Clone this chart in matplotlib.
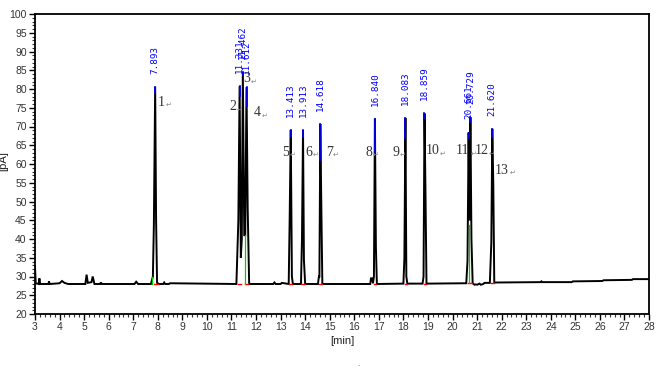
import matplotlib
matplotlib.use("Agg")
import matplotlib.pyplot as plt
from matplotlib.ticker import MultipleLocator

# ---- data ----
trace_t = [3.00, 3.03, 3.15, 3.18, 3.21, 3.55, 3.57, 3.60, 4.00, 4.10, 4.20, 4.35,
           5.05, 5.10, 5.15, 5.30, 5.35, 5.42, 5.65, 5.68, 5.72, 7.05, 7.12, 7.20,
           7.72, 7.80, 7.84, 7.893, 7.93, 7.97, 8.05, 8.22, 8.26, 8.30, 8.45, 8.50,
           11.20, 11.28, 11.331, 11.38, 11.42, 11.462, 11.52, 11.56, 11.612, 11.66, 11.72,
           12.70, 12.75, 12.80, 13.00, 13.05,
           13.33, 13.37, 13.413, 13.46, 13.50,
           13.83, 13.87, 13.913, 13.95, 14.00,
           14.52, 14.56, 14.58, 14.618, 14.66, 14.70,
           16.65, 16.68, 16.73, 16.76, 16.80, 16.84, 16.88, 16.92,
           18.00, 18.04, 18.083, 18.12, 18.16,
           18.78, 18.82, 18.859, 18.90, 18.94,
           20.56, 20.61, 20.655, 20.69, 20.729, 20.77, 20.82,
           20.90, 20.95, 21.00, 21.10, 21.15, 21.25, 21.30,
           21.52, 21.58, 21.620, 21.66, 21.70, 21.80,
           23.60, 23.62, 23.66, 24.85, 24.90, 26.10, 26.15, 27.30, 27.35, 28.00]
trace_y = [32.5, 28.2, 28.0, 29.5, 28.0, 28.0, 28.7, 28.0, 28.2, 28.8, 28.3, 28.0,
           28.0, 30.5, 28.3, 28.5, 30.0, 28.0, 28.0, 28.4, 28.0, 28.0, 28.6, 28.0,
           28.0, 30.0, 43.7, 80.6, 45.3, 28.3, 28.0, 28.0, 28.4, 28.0, 28.0, 28.2,
           28.0, 45.0, 80.8, 35.0, 40.0, 84.6, 41.0, 41.0, 80.5, 48.0, 28.0,
           28.0, 28.4, 28.0, 28.0, 28.3,
           28.0, 45.7, 69.1, 30.0, 28.0,
           28.0, 39.9, 69.0, 34.4, 28.0,
           28.0, 30.0, 30.0, 70.7, 47.7, 28.0,
           28.0, 29.5, 29.5, 28.2, 30.0, 72.1, 38.0, 28.0,
           28.1, 34.8, 72.3, 30.0, 28.1,
           28.1, 30.0, 73.5, 52.0, 28.1,
           28.2, 34.2, 68.4, 45.0, 72.5, 40.0, 28.2,
           27.8, 27.9, 27.8, 28.1, 27.8, 28.0, 28.3,
           28.3, 39.1, 69.4, 54.7, 28.4, 28.4,
           28.5, 28.7, 28.5, 28.5, 28.7, 28.8, 29.0, 29.1, 29.3, 29.3]

peak_rt = [7.893, 11.331, 11.462, 11.612, 13.413, 13.913, 14.618,
           16.840, 18.083, 18.859, 20.655, 20.729, 21.620]
peak_rt_labels = ["7.893", "11.331", "11.462", "11.612", "13.413", "13.913", "14.618",
                  "16.840", "18.083", "18.859", "20.661", "20.729", "21.620"]
peak_apex = [80.6, 80.8, 84.6, 80.5, 69.1, 69.0, 70.7, 72.1, 72.3, 73.5, 68.4, 72.5, 69.4]
blue_bottom = [78.9, 78.1, 83.8, 75.5, 67.2, 67.3, 61.2, 63.3, 67.0, 72.3, 67.0, 71.2, 67.3]
peak_numbers = ["1", "2", "3", "4", "5", "6", "7", "8", "9", "10", "11", "12", "13"]
num_t = [8.01, 10.91, 11.48, 11.92, 13.06, 14.00, 14.84, 16.45, 17.54, 18.91, 20.14, 20.90, 21.73]
num_y = [76.5, 75.2, 82.7, 73.6, 63.2, 63.2, 63.2, 63.2, 63.2, 63.5, 63.5, 63.5, 58.4]

red_t0 = [7.85, 11.28, 11.55, 13.36, 13.85, 14.55, 16.80, 18.05, 18.82, 20.62, 21.58]
red_t1 = [8.00, 11.40, 11.68, 13.48, 14.00, 14.68, 16.90, 18.13, 18.92, 20.78, 21.68]
red_y = [28.0, 28.0, 28.0, 28.0, 28.0, 28.0, 28.0, 28.1, 28.1, 28.2, 28.4]

green_t = [7.78, 11.56, 20.68]
green_top = [30.0, 41.0, 43.7]
green_base = [28.0, 28.0, 28.2]

x_ticks = list(range(3, 29))
y_ticks = list(range(20, 101, 5))

# ---- figure ----
fig = plt.figure(figsize=(6.63, 3.68), dpi=100)
ax = fig.add_axes([35/663, 54/368, 614/663, 300/368])
ax.set_xlim(3, 28)
ax.set_ylim(20, 100)

ax.plot(trace_t, trace_y, color="black", lw=1.4, solid_joinstyle="miter", zorder=3)

for t0, t1, y in zip(red_t0, red_t1, red_y):
    ax.plot([t0, t1], [y, y], color="red", lw=1.0, zorder=4)
for t, b, tp in zip(green_t, green_base, green_top):
    ax.plot([t, t], [b, tp], color="#00cc00", lw=0.9, zorder=4)
for t, a, b in zip(peak_rt, peak_apex, blue_bottom):
    ax.plot([t, t], [b, a], color="#0000ff", lw=1.2, zorder=5)

for t, a, lab in zip(peak_rt, peak_apex, peak_rt_labels):
    ax.text(t, a + 3.5, lab, rotation=90, ha="center", va="bottom",
            color="#0000ff", fontsize=6.7, family="DejaVu Sans Mono", zorder=6)

for t, y, n in zip(num_t, num_y, peak_numbers):
    ax.text(t, y, n, ha="left", va="center", color="#333333", fontsize=10,
            family="Liberation Serif", zorder=6)
    w = 0.30 if len(n) == 1 else 0.58
    ax.text(t + w, y - 0.7, "\u21b5", ha="left", va="center", color="#888888",
            fontsize=5, family="DejaVu Sans", zorder=6)

for s in ax.spines.values():
    s.set_linewidth(1.3)
    s.set_color("black")

ax.set_xticks(x_ticks)
ax.set_yticks(y_ticks)
ax.xaxis.set_minor_locator(MultipleLocator(0.2))
ax.yaxis.set_minor_locator(MultipleLocator(1))
ax.tick_params(axis="both", which="major", direction="out", length=4, width=1,
               color="black", labelsize=7.5, labelcolor="#333333", pad=2)
ax.tick_params(axis="both", which="minor", direction="out", length=2, width=0.8,
               color="#333333")
narrow = ["Liberation Sans Narrow", "Liberation Sans", "DejaVu Sans"]
for lab in ax.get_xticklabels() + ax.get_yticklabels():
    lab.set_family(narrow)
ax.set_xlabel("[min]", fontsize=8, family=narrow, color="#222222", labelpad=3)
ax.set_ylabel("[pA]", fontsize=8, family=narrow, color="#222222")
ax.yaxis.set_label_coords(-0.043, 0.51)
fig.text(357/663, 1 - 366/368, ".", fontsize=5, color="#555555")

fig.savefig("out.png", dpi=100)
